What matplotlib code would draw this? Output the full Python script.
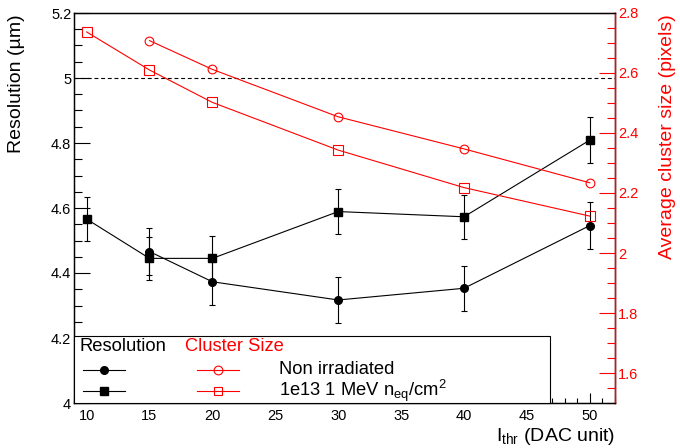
import matplotlib.pyplot as plt
from matplotlib.lines import Line2D
from matplotlib.patches import Rectangle
from matplotlib.ticker import FuncFormatter, MultipleLocator

plt.rcParams["font.family"] = ["Liberation Sans", "DejaVu Sans"]
plt.rcParams["mathtext.fontset"] = "custom"
plt.rcParams["mathtext.rm"] = "Liberation Sans"
plt.rcParams["mathtext.it"] = "Liberation Sans:italic"

# resolution (um), left axis
thr_nonirr = [15, 20, 30, 40, 50]
res_nonirr = [4.466, 4.373, 4.317, 4.353, 4.546]
res_nonirr_err = [0.072, 0.072, 0.070, 0.070, 0.072]

thr_irr = [10, 15, 20, 30, 40, 50]
res_irr = [4.566, 4.445, 4.445, 4.589, 4.573, 4.809]
res_irr_err = [0.068, 0.065, 0.068, 0.068, 0.068, 0.072]

# average cluster size (pixels), right axis
cs_thr_nonirr = [15, 20, 30, 40, 50]
cs_nonirr = [2.708, 2.612, 2.454, 2.347, 2.234]
cs_thr_irr = [10, 15, 20, 30, 40, 50]
cs_irr = [2.737, 2.610, 2.502, 2.343, 2.218, 2.123]

reference_res = 5.0

W, H = 680, 448
fig = plt.figure(figsize=(W / 100, H / 100), dpi=100)
ax = fig.add_axes([74 / W, 45 / H, 541 / W, 390 / H])
ax2 = ax.twinx()

lw = 0.8
fmt = FuncFormatter(lambda v, p: f"{v:g}")

ax.errorbar(thr_nonirr, res_nonirr, yerr=res_nonirr_err, fmt="-o", color="black",
            ms=5.5, lw=lw, elinewidth=lw, capsize=2, capthick=lw)
ax.errorbar(thr_irr, res_irr, yerr=res_irr_err, fmt="-s", color="black",
            ms=5.5, lw=lw, elinewidth=lw, capsize=2, capthick=lw)
ax.axhline(reference_res, color="black", lw=lw, ls=(0, (3.5, 2.5)))

ax.set_xlim(9, 52)
ax.set_ylim(4.0, 5.2)
ax.xaxis.set_major_locator(MultipleLocator(5))
ax.xaxis.set_minor_locator(MultipleLocator(1))
ax.yaxis.set_major_locator(MultipleLocator(0.2))
ax.yaxis.set_minor_locator(MultipleLocator(0.05))
ax.yaxis.set_major_formatter(fmt)
ax.tick_params(axis="x", which="both", direction="in", top=False, labelsize=10.5, pad=4)
ax.tick_params(axis="x", which="major", length=7.2, width=lw)
ax.tick_params(axis="x", which="minor", length=3.6, width=lw)
ax.tick_params(axis="y", which="both", direction="in", right=False, labelsize=10.5, pad=2)
ax.tick_params(axis="y", which="major", length=11.5, width=lw)
ax.tick_params(axis="y", which="minor", length=5.8, width=lw)
for s in ax.spines.values():
    s.set_linewidth(1.0)

ax2.plot(cs_thr_nonirr, cs_nonirr, "-o", color="red", mfc="none", ms=6.3, lw=lw, mew=lw)
ax2.plot(cs_thr_irr, cs_irr, "-s", color="red", mfc="none", ms=6.5, lw=lw, mew=lw)
ax2.set_ylim(1.5, 2.8)
ax2.yaxis.set_major_locator(MultipleLocator(0.2))
ax2.yaxis.set_minor_locator(MultipleLocator(0.05))
ax2.yaxis.set_major_formatter(fmt)
ax2.tick_params(axis="y", which="both", direction="in", colors="red", labelsize=10.5, pad=2)
ax2.tick_params(axis="y", which="major", length=11.5, width=lw)
ax2.tick_params(axis="y", which="minor", length=5.8, width=lw)
ax2.spines["right"].set_color("red")
ax2.spines["right"].set_linewidth(1.0)

# legend box, drawn by hand like the ROOT TLegend
tr = ax2.transAxes
leg_fs = 13.2
ax2.add_patch(Rectangle((0, 0), 0.880, 0.1718, transform=tr, facecolor="white",
                        edgecolor="black", lw=lw, zorder=10, clip_on=False))
ax2.text(0.011, 0.146, "Resolution", transform=tr, fontsize=leg_fs, va="center", zorder=11)
ax2.text(0.205, 0.146, "Cluster Size", transform=tr, fontsize=leg_fs, va="center",
         color="red", zorder=11)
rows = [(0.0854, "o", "Non irradiated"),
        (0.030, "s", r"1e13 1 MeV n$_{\mathrm{eq}}$/cm$^{2}$")]
for y, m, label in rows:
    ax2.add_line(Line2D([0.0166, 0.0555, 0.094], [y] * 3, transform=tr, color="black",
                        marker=m, markevery=[1], ms=5.5, lw=lw, zorder=11))
    ax2.add_line(Line2D([0.227, 0.266, 0.305], [y] * 3, transform=tr, color="red",
                        marker=m, markevery=[1], mfc="none", ms=6.3, lw=lw, mew=lw, zorder=11))
    ax2.text(0.379, y, label, transform=tr, fontsize=leg_fs, va="center", zorder=11)

fig.text(17 / W, 1 - 14 / H, "Resolution (\u00b5m)", rotation=90, ha="center", va="top",
         fontsize=14)
fig.text(667 / W, 1 - 14 / H, "Average cluster size (pixels)", rotation=90, ha="center",
         va="top", fontsize=14, color="red")
fig.text(615 / W, 1 - 441 / H, r"I$_{\mathrm{thr}}$ (DAC unit)", ha="right", va="baseline",
         fontsize=14)

fig.savefig("out.png", dpi=100)
